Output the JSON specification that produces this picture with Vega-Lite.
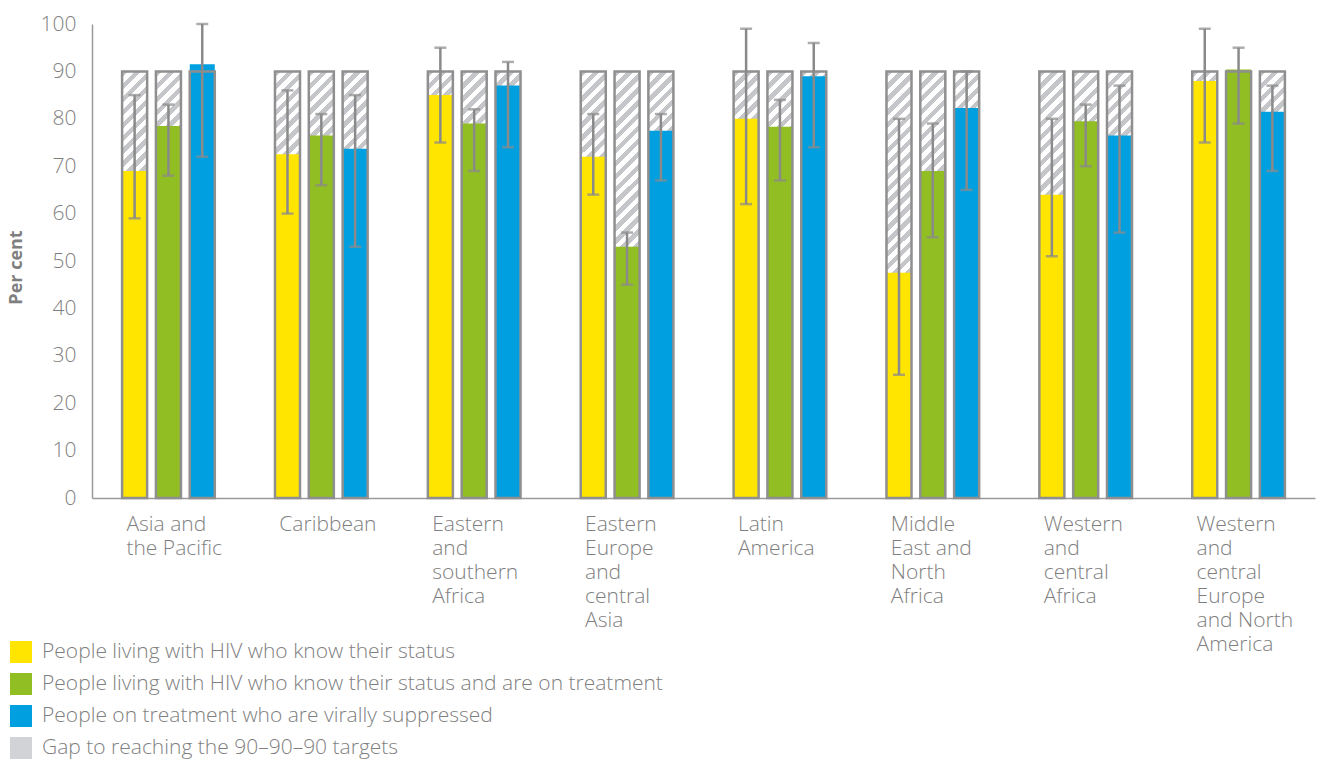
{
  "$schema": "https://vega.github.io/schema/vega-lite/v6.json",
  "autosize": {"type": "none"},
  "padding": {"left": 92, "top": 24, "right": 9, "bottom": 264},
  "width": 1223,
  "height": 474,
  "background": "#ffffff",
  "config": {"view": {"stroke": null}, "font": "Open Sans"},
  "data": {"values": [
    {"region": "Asia and the Pacific", "measure": "People living with HIV who know their status", "value": 69, "lo": 59, "hi": 85},
    {"region": "Asia and the Pacific", "measure": "People living with HIV who know their status and are on treatment", "value": 78.5, "lo": 68, "hi": 83},
    {"region": "Asia and the Pacific", "measure": "People on treatment who are virally suppressed", "value": 91.5, "lo": 72, "hi": 100},
    {"region": "Caribbean", "measure": "People living with HIV who know their status", "value": 72.5, "lo": 60, "hi": 86},
    {"region": "Caribbean", "measure": "People living with HIV who know their status and are on treatment", "value": 76.5, "lo": 66, "hi": 81},
    {"region": "Caribbean", "measure": "People on treatment who are virally suppressed", "value": 73.7, "lo": 53, "hi": 85},
    {"region": "Eastern and southern Africa", "measure": "People living with HIV who know their status", "value": 85, "lo": 75, "hi": 95},
    {"region": "Eastern and southern Africa", "measure": "People living with HIV who know their status and are on treatment", "value": 79, "lo": 69, "hi": 82},
    {"region": "Eastern and southern Africa", "measure": "People on treatment who are virally suppressed", "value": 87, "lo": 74, "hi": 92},
    {"region": "Eastern Europe and central Asia", "measure": "People living with HIV who know their status", "value": 72, "lo": 64, "hi": 81},
    {"region": "Eastern Europe and central Asia", "measure": "People living with HIV who know their status and are on treatment", "value": 53, "lo": 45, "hi": 56},
    {"region": "Eastern Europe and central Asia", "measure": "People on treatment who are virally suppressed", "value": 77.5, "lo": 67, "hi": 81},
    {"region": "Latin America", "measure": "People living with HIV who know their status", "value": 80, "lo": 62, "hi": 99},
    {"region": "Latin America", "measure": "People living with HIV who know their status and are on treatment", "value": 78.3, "lo": 67, "hi": 84},
    {"region": "Latin America", "measure": "People on treatment who are virally suppressed", "value": 89, "lo": 74, "hi": 96},
    {"region": "Middle East and North Africa", "measure": "People living with HIV who know their status", "value": 47.5, "lo": 26, "hi": 80},
    {"region": "Middle East and North Africa", "measure": "People living with HIV who know their status and are on treatment", "value": 69, "lo": 55, "hi": 79},
    {"region": "Middle East and North Africa", "measure": "People on treatment who are virally suppressed", "value": 82.3, "lo": 65, "hi": 90},
    {"region": "Western and central Africa", "measure": "People living with HIV who know their status", "value": 64, "lo": 51, "hi": 80},
    {"region": "Western and central Africa", "measure": "People living with HIV who know their status and are on treatment", "value": 79.5, "lo": 70, "hi": 83},
    {"region": "Western and central Africa", "measure": "People on treatment who are virally suppressed", "value": 76.5, "lo": 56, "hi": 87},
    {"region": "Western and central Europe and North America", "measure": "People living with HIV who know their status", "value": 88, "lo": 75, "hi": 99},
    {"region": "Western and central Europe and North America", "measure": "People living with HIV who know their status and are on treatment", "value": 90.4, "lo": 79, "hi": 95},
    {"region": "Western and central Europe and North America", "measure": "People on treatment who are virally suppressed", "value": 81.5, "lo": 69, "hi": 87}
  ]},
  "encoding": {
    "x": {
      "field": "region", "type": "nominal", "sort": null,
      "scale": {"paddingInner": 0, "paddingOuter": 0},
      "axis": {
        "title": null, "ticks": false, "domainColor": "#9a9a9a", "domainWidth": 1.5,
        "labelAngle": 0, "labelAlign": "left", "labelBaseline": "top",
        "labelFont": "Open Sans", "labelFontWeight": 300, "labelFontSize": 21, "labelLineHeight": 24,
        "labelColor": "#7f7f7f", "labelPadding": 15, "labelLimit": 0, "labelOverlap": false, "labelBound": false,
        "labelOffset": -42,
        "labelExpr": "datum.value === 'Asia and the Pacific' ? ['Asia and','the Pacific'] : datum.value === 'Eastern and southern Africa' ? ['Eastern','and','southern','Africa'] : datum.value === 'Eastern Europe and central Asia' ? ['Eastern','Europe','and','central','Asia'] : datum.value === 'Latin America' ? ['Latin','America'] : datum.value === 'Middle East and North Africa' ? ['Middle','East and','North','Africa'] : datum.value === 'Western and central Africa' ? ['Western','and','central','Africa'] : datum.value === 'Western and central Europe and North America' ? ['Western','and','central','Europe','and North','America'] : datum.label"
      }
    },
    "xOffset": {
      "field": "measure", "type": "nominal",
      "sort": ["People living with HIV who know their status", "People living with HIV who know their status and are on treatment", "People on treatment who are virally suppressed"],
      "scale": {"paddingInner": 0.26, "paddingOuter": 0.89}
    }
  },
  "layer": [
    {
      "mark": {"type": "bar", "strokeWidth": 0, "fill": {
        "gradient": "linear", "x1": 0, "y1": 0, "x2": 0.0618, "y2": 1.055,
        "stops": [
          {"offset": 0, "color": "#c5c6c9"}, {"offset": 0.01429, "color": "#c5c6c9"}, {"offset": 0.01429, "color": "#ffffff"}, {"offset": 0.02857, "color": "#ffffff"},
          {"offset": 0.02857, "color": "#c5c6c9"}, {"offset": 0.04286, "color": "#c5c6c9"}, {"offset": 0.04286, "color": "#ffffff"}, {"offset": 0.05714, "color": "#ffffff"},
          {"offset": 0.05714, "color": "#c5c6c9"}, {"offset": 0.07143, "color": "#c5c6c9"}, {"offset": 0.07143, "color": "#ffffff"}, {"offset": 0.08571, "color": "#ffffff"},
          {"offset": 0.08571, "color": "#c5c6c9"}, {"offset": 0.1, "color": "#c5c6c9"}, {"offset": 0.1, "color": "#ffffff"}, {"offset": 0.11429, "color": "#ffffff"},
          {"offset": 0.11429, "color": "#c5c6c9"}, {"offset": 0.12857, "color": "#c5c6c9"}, {"offset": 0.12857, "color": "#ffffff"}, {"offset": 0.14286, "color": "#ffffff"},
          {"offset": 0.14286, "color": "#c5c6c9"}, {"offset": 0.15714, "color": "#c5c6c9"}, {"offset": 0.15714, "color": "#ffffff"}, {"offset": 0.17143, "color": "#ffffff"},
          {"offset": 0.17143, "color": "#c5c6c9"}, {"offset": 0.18571, "color": "#c5c6c9"}, {"offset": 0.18571, "color": "#ffffff"}, {"offset": 0.2, "color": "#ffffff"},
          {"offset": 0.2, "color": "#c5c6c9"}, {"offset": 0.21429, "color": "#c5c6c9"}, {"offset": 0.21429, "color": "#ffffff"}, {"offset": 0.22857, "color": "#ffffff"},
          {"offset": 0.22857, "color": "#c5c6c9"}, {"offset": 0.24286, "color": "#c5c6c9"}, {"offset": 0.24286, "color": "#ffffff"}, {"offset": 0.25714, "color": "#ffffff"},
          {"offset": 0.25714, "color": "#c5c6c9"}, {"offset": 0.27143, "color": "#c5c6c9"}, {"offset": 0.27143, "color": "#ffffff"}, {"offset": 0.28571, "color": "#ffffff"},
          {"offset": 0.28571, "color": "#c5c6c9"}, {"offset": 0.3, "color": "#c5c6c9"}, {"offset": 0.3, "color": "#ffffff"}, {"offset": 0.31429, "color": "#ffffff"},
          {"offset": 0.31429, "color": "#c5c6c9"}, {"offset": 0.32857, "color": "#c5c6c9"}, {"offset": 0.32857, "color": "#ffffff"}, {"offset": 0.34286, "color": "#ffffff"},
          {"offset": 0.34286, "color": "#c5c6c9"}, {"offset": 0.35714, "color": "#c5c6c9"}, {"offset": 0.35714, "color": "#ffffff"}, {"offset": 0.37143, "color": "#ffffff"},
          {"offset": 0.37143, "color": "#c5c6c9"}, {"offset": 0.38571, "color": "#c5c6c9"}, {"offset": 0.38571, "color": "#ffffff"}, {"offset": 0.4, "color": "#ffffff"},
          {"offset": 0.4, "color": "#c5c6c9"}, {"offset": 0.41429, "color": "#c5c6c9"}, {"offset": 0.41429, "color": "#ffffff"}, {"offset": 0.42857, "color": "#ffffff"},
          {"offset": 0.42857, "color": "#c5c6c9"}, {"offset": 0.44286, "color": "#c5c6c9"}, {"offset": 0.44286, "color": "#ffffff"}, {"offset": 0.45714, "color": "#ffffff"},
          {"offset": 0.45714, "color": "#c5c6c9"}, {"offset": 0.47143, "color": "#c5c6c9"}, {"offset": 0.47143, "color": "#ffffff"}, {"offset": 0.48571, "color": "#ffffff"},
          {"offset": 0.48571, "color": "#c5c6c9"}, {"offset": 0.5, "color": "#c5c6c9"}, {"offset": 0.5, "color": "#ffffff"}, {"offset": 0.51429, "color": "#ffffff"},
          {"offset": 0.51429, "color": "#c5c6c9"}, {"offset": 0.52857, "color": "#c5c6c9"}, {"offset": 0.52857, "color": "#ffffff"}, {"offset": 0.54286, "color": "#ffffff"},
          {"offset": 0.54286, "color": "#c5c6c9"}, {"offset": 0.55714, "color": "#c5c6c9"}, {"offset": 0.55714, "color": "#ffffff"}, {"offset": 0.57143, "color": "#ffffff"},
          {"offset": 0.57143, "color": "#c5c6c9"}, {"offset": 0.58571, "color": "#c5c6c9"}, {"offset": 0.58571, "color": "#ffffff"}, {"offset": 0.6, "color": "#ffffff"},
          {"offset": 0.6, "color": "#c5c6c9"}, {"offset": 0.61429, "color": "#c5c6c9"}, {"offset": 0.61429, "color": "#ffffff"}, {"offset": 0.62857, "color": "#ffffff"},
          {"offset": 0.62857, "color": "#c5c6c9"}, {"offset": 0.64286, "color": "#c5c6c9"}, {"offset": 0.64286, "color": "#ffffff"}, {"offset": 0.65714, "color": "#ffffff"},
          {"offset": 0.65714, "color": "#c5c6c9"}, {"offset": 0.67143, "color": "#c5c6c9"}, {"offset": 0.67143, "color": "#ffffff"}, {"offset": 0.68571, "color": "#ffffff"},
          {"offset": 0.68571, "color": "#c5c6c9"}, {"offset": 0.7, "color": "#c5c6c9"}, {"offset": 0.7, "color": "#ffffff"}, {"offset": 0.71429, "color": "#ffffff"},
          {"offset": 0.71429, "color": "#c5c6c9"}, {"offset": 0.72857, "color": "#c5c6c9"}, {"offset": 0.72857, "color": "#ffffff"}, {"offset": 0.74286, "color": "#ffffff"},
          {"offset": 0.74286, "color": "#c5c6c9"}, {"offset": 0.75714, "color": "#c5c6c9"}, {"offset": 0.75714, "color": "#ffffff"}, {"offset": 0.77143, "color": "#ffffff"},
          {"offset": 0.77143, "color": "#c5c6c9"}, {"offset": 0.78571, "color": "#c5c6c9"}, {"offset": 0.78571, "color": "#ffffff"}, {"offset": 0.8, "color": "#ffffff"},
          {"offset": 0.8, "color": "#c5c6c9"}, {"offset": 0.81429, "color": "#c5c6c9"}, {"offset": 0.81429, "color": "#ffffff"}, {"offset": 0.82857, "color": "#ffffff"},
          {"offset": 0.82857, "color": "#c5c6c9"}, {"offset": 0.84286, "color": "#c5c6c9"}, {"offset": 0.84286, "color": "#ffffff"}, {"offset": 0.85714, "color": "#ffffff"},
          {"offset": 0.85714, "color": "#c5c6c9"}, {"offset": 0.87143, "color": "#c5c6c9"}, {"offset": 0.87143, "color": "#ffffff"}, {"offset": 0.88571, "color": "#ffffff"},
          {"offset": 0.88571, "color": "#c5c6c9"}, {"offset": 0.9, "color": "#c5c6c9"}, {"offset": 0.9, "color": "#ffffff"}, {"offset": 0.91429, "color": "#ffffff"},
          {"offset": 0.91429, "color": "#c5c6c9"}, {"offset": 0.92857, "color": "#c5c6c9"}, {"offset": 0.92857, "color": "#ffffff"}, {"offset": 0.94286, "color": "#ffffff"},
          {"offset": 0.94286, "color": "#c5c6c9"}, {"offset": 0.95714, "color": "#c5c6c9"}, {"offset": 0.95714, "color": "#ffffff"}, {"offset": 0.97143, "color": "#ffffff"},
          {"offset": 0.97143, "color": "#c5c6c9"}, {"offset": 0.98571, "color": "#c5c6c9"}, {"offset": 0.98571, "color": "#ffffff"}, {"offset": 1, "color": "#ffffff"}
        ]
      }},
      "encoding": {"y": {"datum": 90, "type": "quantitative"}}
    },
    {
      "mark": {"type": "bar", "strokeWidth": 0},
      "encoding": {
        "y": {
          "field": "value", "type": "quantitative",
          "scale": {"domain": [0, 100], "nice": false, "zero": true},
          "axis": {
            "values": [0, 10, 20, 30, 40, 50, 60, 70, 80, 90, 100],
            "grid": false, "ticks": false, "domainColor": "#9a9a9a", "domainWidth": 1.5,
            "labelFont": "Open Sans", "labelFontWeight": 300, "labelFontSize": 21, "labelColor": "#7f7f7f", "labelPadding": 16,
            "title": "Per cent", "titleFont": "Open Sans", "titleFontWeight": "bold", "titleFontSize": 18, "titleColor": "#7f7f7f",
            "titleX": -76, "titleY": 243, "titleAngle": 270, "titleAlign": "center", "titleBaseline": "middle"
          }
        },
        "color": {
          "field": "measure", "type": "nominal",
          "scale": {
            "domain": ["People living with HIV who know their status", "People living with HIV who know their status and are on treatment", "People on treatment who are virally suppressed", "Gap to reaching the 90–90–90 targets"],
            "range": ["#ffe500", "#91be23", "#00a0e0", "#d2d3d6"]
          },
          "legend": {
            "orient": "none", "legendX": -82, "legendY": 617, "title": null, "padding": 0,
            "symbolType": "square", "symbolSize": 484, "symbolStrokeWidth": 0,
            "labelFont": "Open Sans", "labelFontWeight": 300, "labelFontSize": 21, "labelColor": "#7f7f7f",
            "labelLimit": 1000, "labelOffset": 10, "rowPadding": 10
          }
        }
      }
    },
    {
      "mark": {"type": "bar", "fill": "transparent", "stroke": "#8f8f8f", "strokeWidth": 2.5},
      "encoding": {"y": {"datum": 90, "type": "quantitative"}}
    },
    {
      "mark": {"type": "rule", "color": "#8a8a8a", "strokeWidth": 2.5},
      "encoding": {"y": {"field": "lo", "type": "quantitative"}, "y2": {"field": "hi"}}
    },
    {
      "mark": {"type": "tick", "color": "#8a8a8a", "size": 12, "thickness": 2.5, "orient": "horizontal"},
      "encoding": {"y": {"field": "lo", "type": "quantitative"}}
    },
    {
      "mark": {"type": "tick", "color": "#8a8a8a", "size": 12, "thickness": 2.5, "orient": "horizontal"},
      "encoding": {"y": {"field": "hi", "type": "quantitative"}}
    }
  ]
}
